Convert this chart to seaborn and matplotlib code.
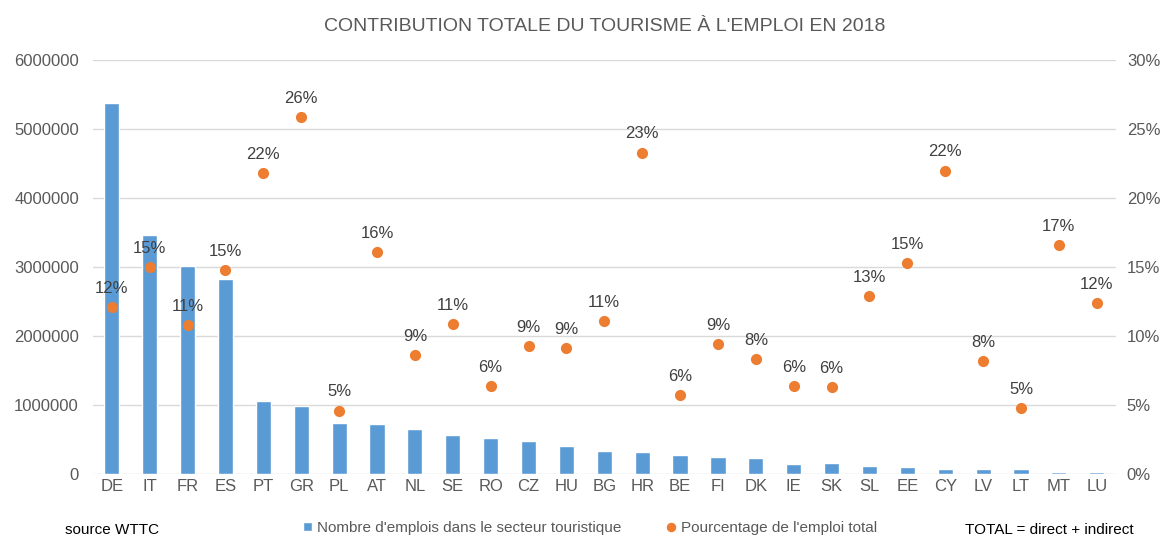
import pandas as pd
import numpy as np
import seaborn as sns
import matplotlib.pyplot as plt
from matplotlib.ticker import PercentFormatter, FuncFormatter

# données (source WTTC)
pays = ['DE', 'IT', 'FR', 'ES', 'PT', 'GR', 'PL', 'AT', 'NL', 'SE', 'RO', 'CZ', 'HU',
        'BG', 'HR', 'BE', 'FI', 'DK', 'IE', 'SK', 'SL', 'EE', 'CY', 'LV', 'LT', 'MT', 'LU']
emplois = [5380000, 3460000, 3010000, 2820000, 1060000, 990000, 740000, 720000, 650000,
           565000, 520000, 480000, 410000, 340000, 320000, 275000, 250000, 230000, 145000,
           165000, 120000, 97000, 72000, 72000, 70000, 30000, 30000]
pourcentage = [12.1, 15.0, 10.8, 14.8, 21.8, 25.9, 4.6, 16.1, 8.6, 10.9, 6.4, 9.3, 9.1,
               11.1, 23.3, 5.7, 9.4, 8.3, 6.4, 6.3, 12.9, 15.3, 22.0, 8.2, 4.8, 16.6, 12.4]

df = pd.DataFrame({'Pays': pays, 'Emplois': emplois, 'Pourcentage': pourcentage})

bleu = '#5B9BD5'
orange = '#ED7D31'
gris = '#595959'

sns.set_style('white')
plt.rcParams['font.family'] = ['Liberation Sans', 'DejaVu Sans']

fig, ax = plt.subplots(figsize=(11.61, 5.47), dpi=100)
fig.subplots_adjust(left=0.08, right=0.961, top=0.89, bottom=0.1335)

# barres : nombre d'emplois
sns.barplot(data=df, x='Pays', y='Emplois', color=bleu, width=0.4, saturation=1,
            label="Nombre d'emplois dans le secteur touristique", ax=ax)

ax.set_ylim(0, 6000000)
ax.set_yticks(range(0, 6000001, 1000000))
ax.yaxis.set_major_formatter(FuncFormatter(lambda v, p: f'{int(v)}'))
ax.grid(axis='y', color='#D9D9D9', linewidth=1)
ax.set_axisbelow(True)
ax.set_xlabel('')
ax.set_ylabel('')
ax.tick_params(axis='both', length=0, labelsize=12, labelcolor=gris)
ax.tick_params(axis='y', pad=10)
for s in ax.spines.values():
    s.set_visible(False)

# points : pourcentage de l'emploi total
ax2 = ax.twinx()
sns.pointplot(data=df, x='Pays', y='Pourcentage', color=orange, linestyle='none',
              markers='o', markersize=6, errorbar=None,
              label="Pourcentage de l'emploi total", ax=ax2)
ax2.set_ylim(0, 30)
ax2.set_yticks(range(0, 31, 5))
ax2.yaxis.set_major_formatter(PercentFormatter(decimals=0))
ax2.set_ylabel('')
ax2.tick_params(axis='y', length=0, labelsize=12, labelcolor=gris, pad=8)
for s in ax2.spines.values():
    s.set_visible(False)
ax2.set_xlim(-0.5, len(pays) - 0.5)

# étiquettes des pourcentages
for i, v in enumerate(pourcentage):
    ax2.annotate(f'{v:.0f}%', (i, v), xytext=(0, 8), textcoords='offset points',
                 ha='center', va='bottom', fontsize=12, color='#404040')

ax.set_title("CONTRIBUTION TOTALE DU TOURISME À L'EMPLOI EN 2018",
             fontsize=14, color=gris, pad=21)

# légende en bas
h1, l1 = ax.get_legend_handles_labels()
h2, l2 = ax2.get_legend_handles_labels()
fig.legend(h1 + h2, l1 + l2, loc='center', bbox_to_anchor=(0.508, 0.035), ncol=2,
           frameon=False, fontsize=11, labelcolor=gris, handlelength=0.6,
           handleheight=0.6, handletextpad=0.3, columnspacing=3, markerscale=0.8)
for lg in ax.get_legend(), ax2.get_legend():
    if lg is not None:
        lg.remove()

fig.text(0.056, 0.018, 'source WTTC', fontsize=11, color='black', ha='left', va='bottom')
fig.text(0.976, 0.018, 'TOTAL = direct + indirect', fontsize=11, color='black',
         ha='right', va='bottom')

plt.savefig('out.png', dpi=100)
